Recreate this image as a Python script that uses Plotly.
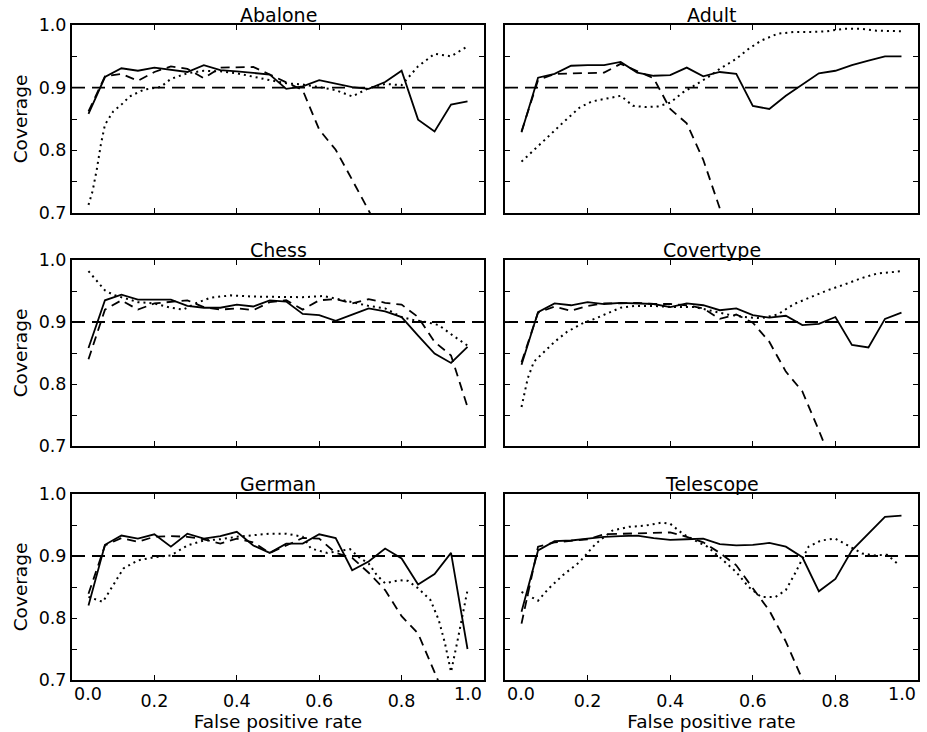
import plotly.graph_objects as go
from plotly.subplots import make_subplots

# ---------------- data ----------------
FPR = [0.04, 0.08, 0.12, 0.16, 0.20, 0.24, 0.28, 0.32, 0.36, 0.40, 0.44, 0.48,
       0.52, 0.56, 0.60, 0.64, 0.68, 0.72, 0.76, 0.80, 0.84, 0.88, 0.92, 0.96]
TITLES = ["Abalone", "Adult", "Chess", "Covertype", "German", "Telescope"]
TARGET = 0.9
X_TICKS = [0.0, 0.2, 0.4, 0.6, 0.8, 1.0]
X_TICK_TEXT = ["", "0.2", "0.4", "0.6", "0.8", ""]
Y_TICKS = [0.70, 0.75, 0.80, 0.85, 0.90, 0.95, 1.00]
Y_TICK_TEXT = ["0.7", "", "0.8", "", "0.9", "", "1.0"]
EDGE_LABELS = ["0.0", "1.0"]

abalone_solid = [0.858, 0.917, 0.931, 0.927, 0.932, 0.928, 0.925, 0.936, 0.928, 0.926, 0.923, 0.921,
                 0.898, 0.902, 0.912, 0.906, 0.901, 0.898, 0.909, 0.927, 0.849, 0.830, 0.873, 0.878]
abalone_dashed = [0.862, 0.918, 0.922, 0.911, 0.925, 0.934, 0.930, 0.915, 0.932, 0.933, 0.933, 0.921,
                  0.909, 0.896, 0.833, 0.801, 0.753, 0.705, 0.655]
abalone_dot_x = [0.04, 0.05, 0.06, 0.07, 0.08, 0.10, 0.12, 0.14, 0.175, 0.215, 0.24, 0.28, 0.32, 0.36,
                 0.40, 0.44, 0.48, 0.52, 0.56, 0.60, 0.64, 0.68, 0.72, 0.76, 0.80, 0.84, 0.88, 0.92, 0.96]
abalone_dot_y = [0.713, 0.735, 0.769, 0.809, 0.841, 0.862, 0.873, 0.886, 0.897, 0.901, 0.914, 0.923,
                 0.927, 0.926, 0.923, 0.917, 0.912, 0.907, 0.905, 0.901, 0.896, 0.886, 0.899, 0.906,
                 0.904, 0.934, 0.954, 0.950, 0.966]

adult_solid = [0.829, 0.916, 0.922, 0.935, 0.936, 0.936, 0.941, 0.924, 0.919, 0.920, 0.932, 0.918,
               0.925, 0.922, 0.871, 0.866, 0.887, 0.905, 0.923, 0.927, 0.936, 0.943, 0.950, 0.950]
adult_dashed = [0.830, 0.912, 0.922, 0.923, 0.923, 0.924, 0.938, 0.926, 0.915, 0.866, 0.843, 0.785,
                0.707, 0.630]
adult_dot_x = [0.04, 0.065, 0.10, 0.14, 0.18, 0.21, 0.24, 0.28, 0.31, 0.34, 0.37, 0.40, 0.43, 0.46,
               0.49, 0.52, 0.56, 0.59, 0.62, 0.66, 0.70, 0.74, 0.78, 0.82, 0.86, 0.90, 0.96]
adult_dot_y = [0.782, 0.798, 0.819, 0.844, 0.868, 0.878, 0.882, 0.887, 0.871, 0.869, 0.870, 0.876,
               0.892, 0.904, 0.916, 0.930, 0.946, 0.962, 0.975, 0.986, 0.989, 0.989, 0.990, 0.994,
               0.994, 0.991, 0.990]

chess_solid = [0.858, 0.935, 0.944, 0.936, 0.936, 0.936, 0.926, 0.923, 0.923, 0.928, 0.925, 0.935,
               0.933, 0.913, 0.911, 0.902, 0.912, 0.922, 0.917, 0.908, 0.878, 0.849, 0.834, 0.860]
chess_dashed = [0.840, 0.920, 0.935, 0.920, 0.930, 0.933, 0.935, 0.924, 0.920, 0.922, 0.919, 0.932,
                0.935, 0.920, 0.935, 0.937, 0.930, 0.937, 0.931, 0.928, 0.908, 0.868, 0.846, 0.763]
chess_dot_x = [0.04, 0.06, 0.08, 0.10, 0.16, 0.20, 0.24, 0.27, 0.30, 0.335, 0.385, 0.44, 0.50, 0.56,
               0.61, 0.64, 0.68, 0.72, 0.76, 0.80, 0.83, 0.86, 0.89, 0.925, 0.96]
chess_dot_y = [0.982, 0.967, 0.951, 0.944, 0.932, 0.930, 0.923, 0.920, 0.930, 0.939, 0.943, 0.941,
               0.940, 0.940, 0.942, 0.938, 0.932, 0.926, 0.922, 0.908, 0.903, 0.900, 0.895, 0.878, 0.862]

cover_solid = [0.831, 0.916, 0.930, 0.927, 0.932, 0.929, 0.931, 0.930, 0.929, 0.924, 0.930, 0.927,
               0.919, 0.922, 0.911, 0.907, 0.910, 0.895, 0.897, 0.908, 0.863, 0.859, 0.905, 0.915]
cover_dashed = [0.835, 0.915, 0.925, 0.918, 0.926, 0.930, 0.930, 0.931, 0.929, 0.929, 0.927, 0.922,
                0.905, 0.912, 0.899, 0.868, 0.820, 0.788, 0.725, 0.660]
cover_dot_x = [0.04, 0.055, 0.07, 0.10, 0.12, 0.15, 0.185, 0.22, 0.25, 0.28, 0.315, 0.36, 0.41, 0.46,
               0.50, 0.54, 0.58, 0.62, 0.66, 0.70, 0.74, 0.78, 0.82, 0.86, 0.90, 0.96]
cover_dot_y = [0.763, 0.809, 0.836, 0.855, 0.868, 0.884, 0.897, 0.906, 0.915, 0.923, 0.926, 0.926,
               0.924, 0.924, 0.918, 0.912, 0.908, 0.906, 0.912, 0.929, 0.940, 0.951, 0.960, 0.970,
               0.978, 0.982]

german_solid = [0.820, 0.918, 0.933, 0.928, 0.935, 0.915, 0.936, 0.928, 0.932, 0.939, 0.917, 0.905,
                0.920, 0.920, 0.935, 0.929, 0.877, 0.891, 0.912, 0.896, 0.854, 0.871, 0.905, 0.750]
german_dashed = [0.839, 0.917, 0.929, 0.923, 0.931, 0.932, 0.931, 0.927, 0.920, 0.928, 0.922, 0.905,
                 0.917, 0.929, 0.928, 0.905, 0.897, 0.873, 0.845, 0.803, 0.775, 0.715, 0.650]
german_dot_x = [0.04, 0.075, 0.10, 0.125, 0.16, 0.20, 0.24, 0.28, 0.32, 0.36, 0.40, 0.44, 0.48, 0.52,
                0.56, 0.58, 0.62, 0.675, 0.70, 0.72, 0.74, 0.76, 0.795, 0.815, 0.84, 0.87, 0.89,
                0.905, 0.92, 0.935, 0.96]
german_dot_y = [0.834, 0.826, 0.853, 0.880, 0.893, 0.898, 0.901, 0.917, 0.925, 0.927, 0.931, 0.933,
                0.936, 0.936, 0.931, 0.912, 0.905, 0.911, 0.896, 0.888, 0.869, 0.856, 0.861, 0.860,
                0.848, 0.829, 0.797, 0.760, 0.713, 0.761, 0.845]

tele_solid = [0.810, 0.909, 0.924, 0.925, 0.928, 0.931, 0.932, 0.933, 0.929, 0.926, 0.927, 0.928,
              0.919, 0.917, 0.918, 0.921, 0.915, 0.898, 0.843, 0.863, 0.909, 0.936, 0.963, 0.965]
tele_dashed = [0.791, 0.915, 0.922, 0.924, 0.927, 0.935, 0.936, 0.936, 0.937, 0.938, 0.931, 0.922,
               0.905, 0.885, 0.848, 0.812, 0.762, 0.705, 0.640]
tele_dot_x = [0.04, 0.065, 0.08, 0.105, 0.14, 0.18, 0.22, 0.26, 0.30, 0.34, 0.38, 0.40, 0.43, 0.46,
              0.49, 0.52, 0.56, 0.59, 0.62, 0.655, 0.68, 0.70, 0.735, 0.765, 0.80, 0.83, 0.865,
              0.895, 0.925, 0.955]
tele_dot_y = [0.842, 0.834, 0.828, 0.847, 0.869, 0.890, 0.920, 0.941, 0.947, 0.949, 0.954, 0.952,
              0.936, 0.925, 0.915, 0.898, 0.874, 0.850, 0.834, 0.834, 0.845, 0.869, 0.915, 0.925,
              0.928, 0.917, 0.904, 0.901, 0.902, 0.885]

PANELS = [
    (abalone_solid, abalone_dashed, abalone_dot_x, abalone_dot_y),
    (adult_solid, adult_dashed, adult_dot_x, adult_dot_y),
    (chess_solid, chess_dashed, chess_dot_x, chess_dot_y),
    (cover_solid, cover_dashed, cover_dot_x, cover_dot_y),
    (german_solid, german_dashed, german_dot_x, german_dot_y),
    (tele_solid, tele_dashed, tele_dot_x, tele_dot_y),
]

# ---------------- layout geometry ----------------
W, H = 927, 732
COLS_PX = [(72, 484), (505, 918)]
ROWS_PX = [(25, 213), (260, 446), (494, 680)]
COL_DOM = [[a / W, b / W] for a, b in COLS_PX]
ROW_DOM = [[1 - b / H, 1 - a / H] for a, b in ROWS_PX]
FONT = "DejaVu Sans"
TICK_FS = 17.5

fig = make_subplots(rows=3, cols=2)

for i, (solid, dashed, dx, dy) in enumerate(PANELS):
    r, c = i // 2 + 1, i % 2 + 1
    fig.add_trace(go.Scatter(x=FPR[:len(dashed)], y=dashed, mode="lines",
                             line=dict(color="black", width=1.8, dash="9px,6px"),
                             showlegend=False), row=r, col=c)
    fig.add_trace(go.Scatter(x=dx, y=dy, mode="lines",
                             line=dict(color="black", width=2, dash="2px,4px"),
                             showlegend=False), row=r, col=c)
    fig.add_trace(go.Scatter(x=FPR, y=solid, mode="lines",
                             line=dict(color="black", width=1.8),
                             showlegend=False), row=r, col=c)
    fig.add_hline(y=TARGET, line=dict(color="black", width=1.8, dash="13px,7px"), row=r, col=c)

for i in range(6):
    r, c = i // 2, i % 2
    idx = "" if i == 0 else str(i + 1)
    bottom = r == 2
    left = c == 0
    fig.layout["xaxis" + idx].update(
        domain=COL_DOM[c], range=[0, 1], tickvals=X_TICKS, automargin=False,
        ticktext=X_TICK_TEXT, showticklabels=bottom,
        ticks="inside", ticklen=5, tickwidth=1, tickcolor="black",
        showline=True, linecolor="black", linewidth=2, mirror="allticks",
        showgrid=False, zeroline=False, ticklabelstandoff=4,
        tickfont=dict(family=FONT, size=TICK_FS, color="black"),
        title=dict(text="False positive rate" if bottom else "",
                   font=dict(family=FONT, size=18.5, color="black"), standoff=6),
    )
    fig.layout["yaxis" + idx].update(
        domain=ROW_DOM[r], range=[0.7, 1.0], tickvals=Y_TICKS, automargin=False,
        ticktext=Y_TICK_TEXT, showticklabels=left,
        ticks="inside", ticklen=5, tickwidth=1, tickcolor="black",
        showline=True, linecolor="black", linewidth=2, mirror="allticks",
        showgrid=False, zeroline=False, ticklabelstandoff=0,
        tickfont=dict(family=FONT, size=TICK_FS, color="black"),
        title=dict(text="Coverage" if left else "",
                   font=dict(family=FONT, size=18.5, color="black"), standoff=6),
    )
    # panel title
    fig.add_annotation(text=TITLES[i], xref="paper", yref="paper",
                       x=sum(COL_DOM[c]) / 2, y=ROW_DOM[r][1], xanchor="center",
                       yanchor="bottom", yshift=-3, showarrow=False,
                       font=dict(family=FONT, size=19, color="black"))
    if bottom:
        xr = "x" + idx
        for val, lab, anc in zip([X_TICKS[0], X_TICKS[-1]], EDGE_LABELS, ["left", "right"]):
            fig.add_annotation(text=lab, xref=xr, yref="paper", x=val, y=ROW_DOM[r][0],
                               xanchor=anc, yanchor="top", yshift=-2, showarrow=False,
                               font=dict(family=FONT, size=TICK_FS, color="black"))

fig.update_layout(width=W, height=H, margin=dict(l=0, r=0, t=0, b=0),
                  plot_bgcolor="white", paper_bgcolor="white",
                  font=dict(family=FONT, color="black"))
fig.write_html("out.html", config={"displayModeBar": False},
               post_script="document.body.style.margin='0';document.body.style.overflow='hidden';")
